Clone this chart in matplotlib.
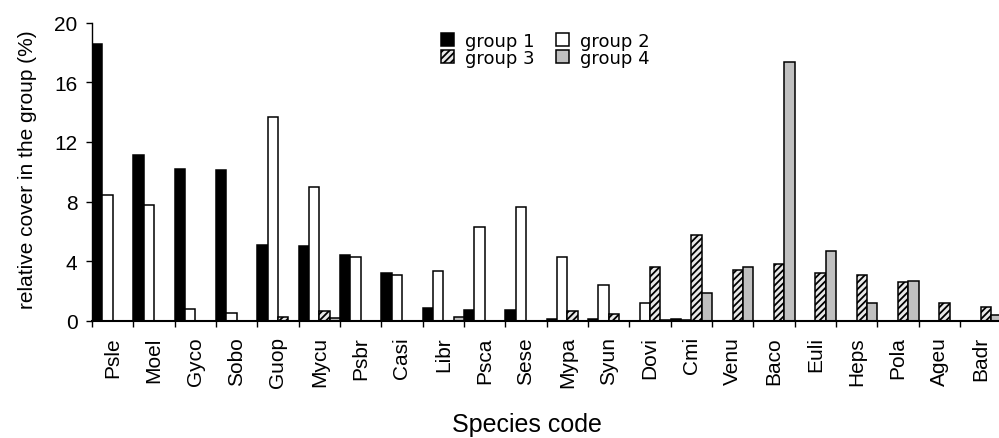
import numpy as np
import matplotlib
matplotlib.use("Agg")
import matplotlib.pyplot as plt


species = ["Psle", "Moel", "Gyco", "Sobo", "Guop", "Mycu", "Psbr", "Casi",
           "Libr", "Psca", "Sese", "Mypa", "Syun", "Dovi", "Cmi", "Venu",
           "Baco", "Euli", "Heps", "Pola", "Ageu", "Badr"]

group_1 = [18.55, 11.15, 10.2, 10.1, 5.1, 5.0, 4.45, 3.25, 0.85, 0.75, 0.75,
           0.15, 0.15, 0, 0.15, 0, 0, 0, 0, 0, 0, 0]
group_2 = [8.45, 7.8, 0.8, 0.55, 13.7, 9.0, 4.3, 3.1, 3.35, 6.3, 7.65,
           4.3, 2.4, 1.2, 0.1, 0, 0, 0, 0, 0, 0, 0]
group_3 = [0, 0, 0, 0, 0.3, 0.7, 0, 0, 0, 0, 0,
           0.7, 0.45, 3.65, 5.75, 3.4, 3.8, 3.25, 3.1, 2.6, 1.2, 0.95]
group_4 = [0, 0, 0, 0, 0, 0.2, 0, 0, 0.3, 0, 0,
           0, 0, 0.1, 1.9, 3.65, 17.35, 4.7, 1.2, 2.7, 0, 0.4]

group_names = ["group 1", "group 2", "group 3", "group 4"]
y_ticks = [0, 4, 8, 12, 16, 20]

plt.rcParams["font.family"] = ["Liberation Sans", "DejaVu Sans"]
plt.rcParams["hatch.linewidth"] = 1.3

fig = plt.figure(figsize=(9.99, 4.39), dpi=100)
ax = fig.add_axes([92 / 999, 117 / 439, 909.3 / 999, 298.4 / 439])

x = np.arange(len(species))
w = 0.25
styles = [
    dict(color="black", edgecolor="black"),
    dict(color="white", edgecolor="black"),
    dict(color="#e8e8e8", edgecolor="black", hatch="/////"),
    dict(color="#c0c0c0", edgecolor="black"),
]
bars = []
for k, vals in enumerate([group_1, group_2, group_3, group_4]):
    b = ax.bar(x + w * (k + 0.5), vals, width=w, linewidth=1.1,
               label=group_names[k], **styles[k])
    bars.append(b)

ax.set_xlim(0, len(species))
ax.set_ylim(0, 20)
ax.set_yticks(y_ticks)
ax.tick_params(axis="y", labelsize=15, length=4.5, width=1, pad=6)

# tick marks on category borders, labels in the middle
ax.set_xticks(np.arange(len(species) + 1))
ax.set_xticklabels([])
ax.set_xticks(x + 0.5, minor=True)
ax.set_xticklabels(species, minor=True, rotation=90, fontsize=15)
ax.tick_params(axis="x", which="major", length=4.5, width=1)
ax.tick_params(axis="x", which="minor", length=0, pad=11)

for s in ["top", "right"]:
    ax.spines[s].set_visible(False)
ax.spines["left"].set_linewidth(1.0)
ax.spines["bottom"].set_linewidth(1.5)

ax.set_ylabel("relative cover in the group (%)", fontsize=15)
ax.yaxis.set_label_coords(-0.0608, 0.51)
ax.set_xlabel("Species code", fontsize=18)
ax.xaxis.set_label_coords((527 - 92) / 909.3, -0.305)

handles = [bars[0], bars[2], bars[1], bars[3]]
labels = [group_names[0], group_names[2], group_names[1], group_names[3]]
ax.legend(handles, labels, ncol=2, loc="upper left",
          bbox_to_anchor=(441 / 999, 406 / 439), bbox_transform=fig.transFigure,
          frameon=False, borderpad=0, borderaxespad=0,
          handlelength=0.72, handleheight=0.72, handletextpad=0.6,
          columnspacing=1.2, labelspacing=-0.05,
          prop={"family": "DejaVu Sans", "size": 13})

fig.savefig("out.png", dpi=100)
